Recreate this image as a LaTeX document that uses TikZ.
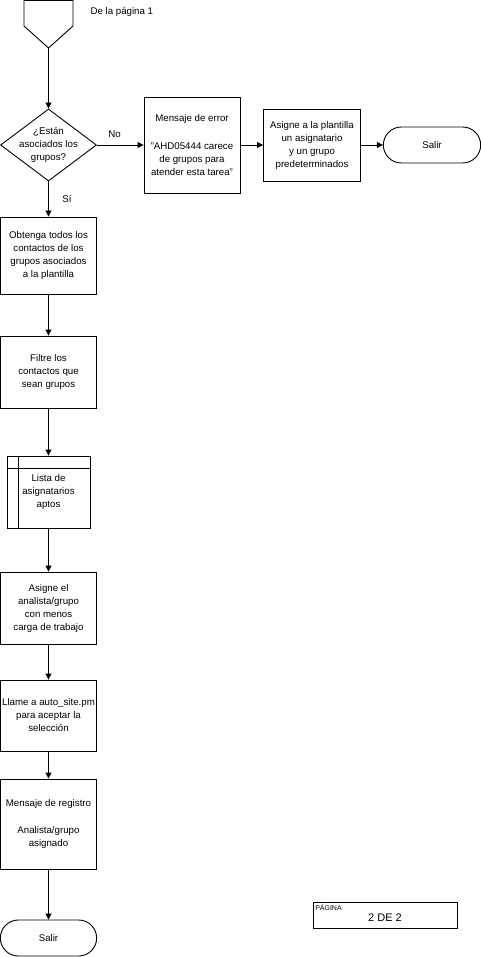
\documentclass[tikz,border=0pt]{standalone}
\usepackage{fontspec}
\setmainfont{Liberation Sans}
\usetikzlibrary{arrows.meta,shapes,positioning}
\tikzset{
	block/.style={
		rectangle,
		draw=black,
		line width=0.9pt,
		fill=white,
		minimum width=96pt,
		minimum height=72pt,
		inner sep=1pt,
		align=center
	},
	decision/.style={
		diamond,
		draw=black,
		line width=0.9pt,
		fill=white,
		minimum width=96pt,
		minimum height=72pt,
		inner sep=0pt
	},
	terminal/.style={
		rounded rectangle,
		draw=black,
		line width=0.9pt,
		fill=white,
		minimum width=104pt,
		minimum height=36pt
	},
	storage/.style={
		block,
		minimum width=83pt,
		path picture={
			\draw[line width=0.9pt] ([xshift=11pt]path picture bounding box.north west) -- ([xshift=11pt]path picture bounding box.south west);
			\draw[line width=0.9pt] ([yshift=-12pt]path picture bounding box.north west) -- ([yshift=-12pt]path picture bounding box.north east);
		}
	},
	offpage/.style={
		draw=black,
		line width=0.9pt,
		fill=white
	},
	arrow/.style={
		line width=0.9pt,
		->
	},
}

\begin{document}
\begin{tikzpicture}[x=1pt,y=1pt,>={Triangle[length=6pt,width=6pt]},font=\fontsize{9.7}{13}\selectfont]
	\useasboundingbox (0,0) rectangle (481,-957);
	% conector de otra pagina
	\draw[offpage] (24,-0.5) -- (24,-26) -- (48.5,-48) -- (73,-26) -- (73,-0.5) -- cycle;
	\coordinate (inicio) at (48.5,-48);
	\node [anchor=west] (origen) at (87,-12) {De la página 1};

	\node [decision, label={[align=center]center:¿Están\\asociados los\\grupos?}] (q1) at (48.5,-145) {};
	\node [block, minimum height=96pt] (error) [right of = q1, node distance=143.5pt] {Mensaje de error\\[15pt]"AHD05444 carece\\de grupos para\\atender esta tarea"};
	\node [block, minimum width=97pt] (defecto) [right of = error, node distance=120pt] {Asigne a la plantilla\\un asignatario\\y un grupo\\predeterminados};
	\node [terminal] (salir1) [right of = defecto, node distance=120pt] {Salir};

	\node [block, minimum height=77pt] (obtener) [below of = q1, node distance=110.5pt] {Obtenga todos los\\contactos de los\\grupos asociados\\a la plantilla};
	\node [block] (filtrar) [below of = obtener, node distance=116.5pt] {Filtre los\\contactos que\\sean grupos};
	\node [storage] (lista) [below of = filtrar, node distance=120pt] {Lista de\\asignatarios\\aptos};
	\node [block] (asignar) [below of = lista, node distance=116pt] {Asigne el\\analista/grupo\\con menos\\carga de trabajo};
	\node [block, minimum height=71pt] (llamar) [below of = asignar, node distance=107.5pt] {Llame a auto\_site.pm\\para aceptar la\\selección};
	\node [block, minimum height=90pt] (registro) [below of = llamar, node distance=108.5pt] {Mensaje de registro\\[14pt]Analista/grupo\\asignado};
	\node [terminal, minimum width=103pt] (salir2) [below of = registro, node distance=114pt] {Salir};

	% numero de pagina
	\node [rectangle, draw=black, line width=0.9pt, minimum width=144pt, minimum height=26pt] (pagina) at (385,-915) {};
	\node [anchor=north west, inner sep=2.5pt, font=\fontsize{7}{8}\selectfont] (pagtitulo) at (pagina.north west) {PÁGINA};
	\node [font=\fontsize{11}{13}\selectfont] (pagnum) at ([yshift=-3pt]pagina.center) {2 DE 2};

	\path[arrow]
	(inicio) edge (q1)
	(q1) edge node[above=4pt, pos=0.38] {No} (error)
	(error) edge (defecto)
	(defecto) edge (salir1)
	(q1) edge node[right=10pt] {Sí} (obtener)
	(obtener) edge (filtrar)
	(filtrar) edge (lista)
	(lista) edge (asignar)
	(asignar) edge (llamar)
	(llamar) edge (registro)
	(registro) edge (salir2)
	;
\end{tikzpicture}
\end{document}
